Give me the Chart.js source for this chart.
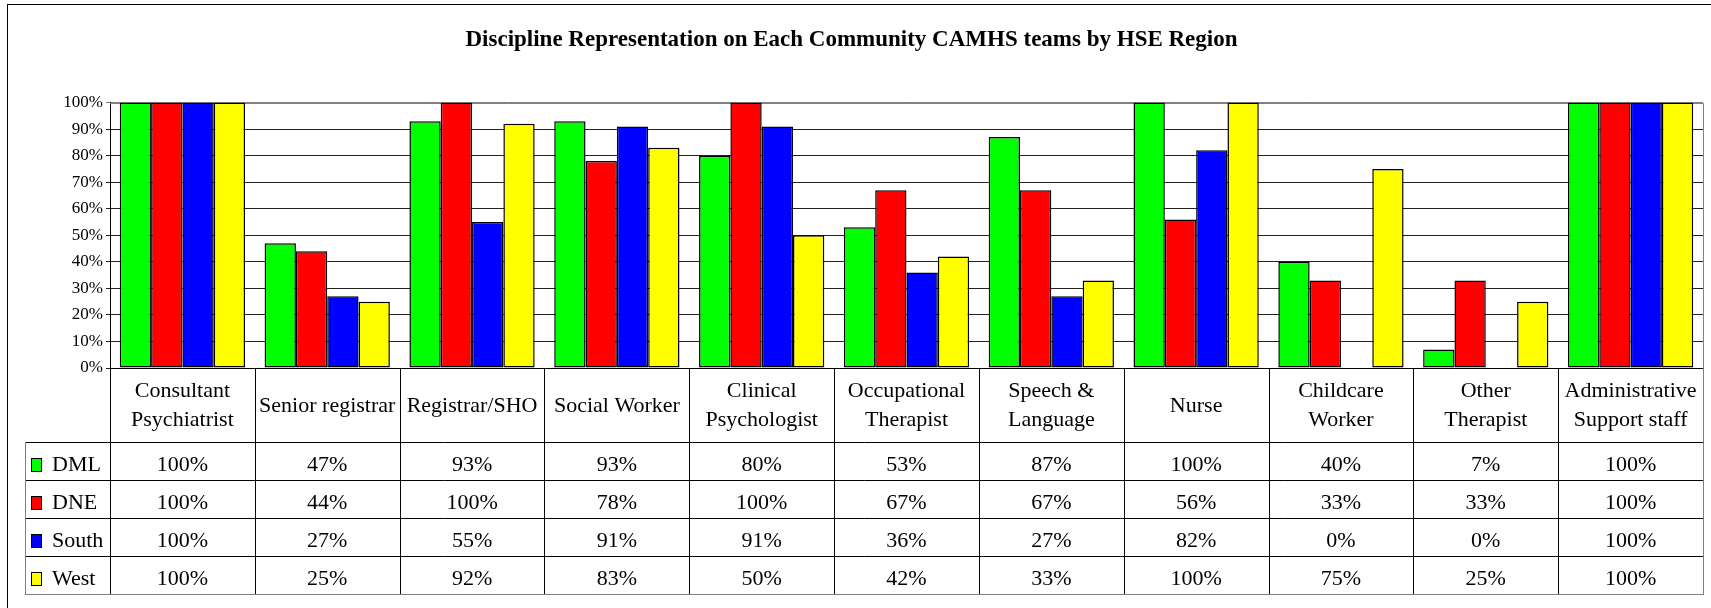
<!DOCTYPE html>
<html>
<head>
<meta charset="utf-8">
<title>Discipline Representation</title>
<script src="https://cdn.jsdelivr.net/npm/chart.js@4.4.0/dist/chart.umd.min.js"></script>
<style>
  html, body { margin: 0; padding: 0; background: #fff; }
  canvas { display: block; }
</style>
</head>
<body>
<canvas id="chart" width="1711" height="608"></canvas>
<script>
// Categorie (discipline) e valori per regione HSE
const categories = [
    ['Consultant', 'Psychiatrist'],
    ['Senior registrar'],
    ['Registrar/SHO'],
    ['Social Worker'],
    ['Clinical', 'Psychologist'],
    ['Occupational', 'Therapist'],
    ['Speech &', 'Language'],
    ['Nurse'],
    ['Childcare', 'Worker'],
    ['Other', 'Therapist'],
    ['Administrative', 'Support staff']
];
const regions = ['DML', 'DNE', 'South', 'West'];
const dmlValues   = [100, 47, 93, 93, 80, 53, 87, 100, 40, 7, 100];
const dneValues   = [100, 44, 100, 78, 100, 67, 67, 56, 33, 33, 100];
const southValues = [100, 27, 55, 91, 91, 36, 27, 82, 0, 0, 100];
const westValues  = [100, 25, 92, 83, 50, 42, 33, 100, 75, 25, 100];
const regionColors = ['#00ff00', '#ff0000', '#0000ff', '#ffff00'];
const yTicks = [0, 10, 20, 30, 40, 50, 60, 70, 80, 90, 100];

const serif = '"Liberation Serif", "Times New Roman", serif';
const seriesValues = [dmlValues, dneValues, southValues, westValues];

// Altezze della tabella sotto il grafico
const headerHeight = 74;
const rowHeight = 38;

// Cornice esterna e bordo dell'area del grafico
const framePlugin = {
    id: 'frame',
    beforeDraw(chart) {
        const ctx = chart.ctx;
        ctx.save();
        ctx.fillStyle = '#fff';
        ctx.fillRect(0, 0, chart.width, chart.height);
        ctx.strokeStyle = '#000';
        ctx.lineWidth = 1;
        ctx.strokeRect(7.5, 4.5, chart.width + 20, chart.height + 20);
        ctx.restore();
    },
    beforeDatasetsDraw(chart) {
        const a = chart.chartArea;
        const ctx = chart.ctx;
        ctx.save();
        ctx.strokeStyle = '#808080';
        ctx.lineWidth = 1;
        ctx.beginPath();
        ctx.moveTo(a.left, Math.round(a.top) + 0.5);
        ctx.lineTo(Math.round(a.right) + 0.5, Math.round(a.top) + 0.5);
        ctx.lineTo(Math.round(a.right) + 0.5, a.bottom);
        ctx.stroke();
        ctx.restore();
    }
};

// Tabella dati (stile Excel) disegnata sotto l'asse x
const tablePlugin = {
    id: 'dataTable',
    afterDraw(chart) {
        const ctx = chart.ctx;
        const xs = chart.scales.x;
        const top = Math.round(chart.chartArea.bottom);
        const right = Math.round(xs.right);
        const colW = (xs.right - xs.left) / categories.length;
        const tableLeft = 25;
        const headerBottom = top + headerHeight;
        const bottom = headerBottom + rowHeight * regions.length;

        ctx.save();
        ctx.lineWidth = 1;
        ctx.strokeStyle = '#000';

        // linee orizzontali
        ctx.beginPath();
        for (let r = 0; r <= regions.length; r++) {
            const y = headerBottom + r * rowHeight + 0.5;
            ctx.moveTo(tableLeft, y);
            ctx.lineTo(right + 0.5, y);
        }
        // linee verticali delle colonne
        for (let c = 0; c <= categories.length; c++) {
            const x = Math.round(xs.left + c * colW) + 0.5;
            ctx.moveTo(x, top);
            ctx.lineTo(x, bottom + 0.5);
        }
        ctx.stroke();

        // bordo esterno grigio
        ctx.strokeStyle = '#808080';
        ctx.beginPath();
        ctx.moveTo(tableLeft + 0.5, headerBottom);
        ctx.lineTo(tableLeft + 0.5, bottom + 0.5);
        ctx.lineTo(right + 0.5, bottom + 0.5);
        ctx.lineTo(right + 0.5, top);
        ctx.stroke();

        // intestazioni delle categorie
        ctx.fillStyle = '#000';
        ctx.font = '22px ' + serif;
        ctx.textAlign = 'center';
        ctx.textBaseline = 'middle';
        const lineGap = 29;
        categories.forEach((lines, c) => {
            const cx = xs.getPixelForValue(c);
            const cy = top + headerHeight / 2 + 1;
            lines.forEach((line, i) => {
                const y = cy + (i - (lines.length - 1) / 2) * lineGap;
                ctx.fillText(line, cx, y);
            });
        });

        // righe dei valori con legenda
        regions.forEach((name, r) => {
            const cy = headerBottom + r * rowHeight + rowHeight / 2 + 4;
            ctx.fillStyle = regionColors[r];
            ctx.fillRect(31, cy - 7, 10, 13);
            ctx.strokeStyle = '#000';
            ctx.strokeRect(31.5, cy - 6.5, 10, 13);
            ctx.fillStyle = '#000';
            ctx.textAlign = 'left';
            ctx.fillText(name, 52, cy);
            ctx.textAlign = 'center';
            seriesValues[r].forEach((v, c) => {
                ctx.fillText(v + '%', xs.getPixelForValue(c), cy);
            });
        });
        ctx.restore();
    }
};

const datasets = regions.map((name, i) => ({
    label: name,
    data: seriesValues[i],
    backgroundColor: regionColors[i],
    borderColor: '#000',
    borderWidth: 1.5,
    borderSkipped: false,
    categoryPercentage: 0.865,
    barPercentage: 1.0
}));

new Chart(document.getElementById('chart'), {
    type: 'bar',
    data: {
        labels: categories.map(l => l.join(' ')),
        datasets: datasets
    },
    options: {
        responsive: false,
        animation: false,
        layout: { padding: { left: 0, right: 8, top: 0, bottom: 0 } },
        plugins: {
            legend: { display: false },
            tooltip: { enabled: false },
            title: {
                display: true,
                text: 'Discipline Representation on Each Community CAMHS teams by HSE Region',
                color: '#000',
                font: { family: serif, size: 23, weight: 'bold', lineHeight: 1.2 },
                padding: { top: 26, bottom: 49 }
            }
        },
        scales: {
            x: {
                ticks: { display: false },
                grid: { display: false, drawTicks: false },
                border: { display: true, color: '#000', width: 1 },
                afterFit(scale) { scale.height = 240; }
            },
            y: {
                min: 0,
                max: 100,
                afterBuildTicks(scale) {
                    scale.ticks = yTicks.map(v => ({ value: v }));
                },
                afterFit(scale) { scale.width = 110; },
                ticks: {
                    color: '#000',
                    padding: 3,
                    font: { family: serif, size: 17 },
                    callback: v => v + '%'
                },
                grid: {
                    color: ctx => (ctx.tick && ctx.tick.value === 100) ? '#808080' : '#222',
                    lineWidth: 1,
                    tickLength: 4
                },
                border: { display: true, color: '#000', width: 1 }
            }
        }
    },
    plugins: [framePlugin, tablePlugin]
});
</script>
</body>
</html>
